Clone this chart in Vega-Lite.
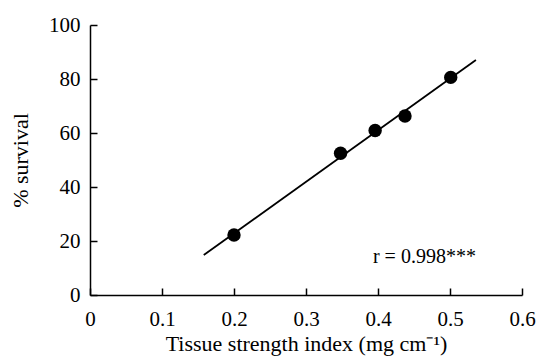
{
  "$schema": "https://vega.github.io/schema/vega-lite/v6.json",
  "width": 432,
  "height": 270,
  "autosize": {"type": "none"},
  "padding": {"left": 90, "top": 25, "right": 15, "bottom": 66},
  "background": "white",
  "config": {
    "view": {"stroke": null},
    "font": "Liberation Serif",
    "axis": {
      "domainColor": "black",
      "domainWidth": 1.5,
      "tickColor": "black",
      "tickWidth": 1.5,
      "grid": false,
      "labelFont": "Liberation Serif",
      "titleFont": "Liberation Serif",
      "labelFontSize": 21,
      "titleFontSize": 22,
      "labelColor": "black",
      "titleColor": "black",
      "titleFontWeight": "normal"
    }
  },
  "layer": [
    {
      "data": {"values": [{"x": 0.158, "y": 14.8}, {"x": 0.536, "y": 87.0}]},
      "mark": {"type": "line", "color": "black", "strokeWidth": 1.8},
      "encoding": {
        "x": {
          "field": "x", "type": "quantitative",
          "scale": {"domain": [0, 0.6], "nice": false},
          "axis": {
            "title": "Tissue strength index (mg cm⁻¹)",
            "values": [0, 0.05, 0.1, 0.15, 0.2, 0.25, 0.3, 0.35, 0.4, 0.45, 0.5, 0.55, 0.6],
            "labelExpr": "round(datum.value*20) % 2 == 0 ? format(datum.value, '.1~f') : ''",
            "tickSize": {"condition": {"test": "round(datum.value*20) % 2 == 0", "value": -7}, "value": -4},
            "labelPadding": 20,
            "labelFlush": false,
            "labelOverlap": false,
            "titlePadding": 4
          }
        },
        "y": {
          "field": "y", "type": "quantitative",
          "scale": {"domain": [0, 100], "nice": false},
          "axis": {
            "title": "% survival",
            "values": [0, 10, 20, 30, 40, 50, 60, 70, 80, 90, 100],
            "labelExpr": "datum.value % 20 == 0 ? datum.label : ''",
            "tickSize": {"condition": {"test": "datum.value % 20 == 0", "value": -7}, "value": -4},
            "labelPadding": 17,
            "labelFlush": false,
            "labelOverlap": false,
            "titlePadding": 16
          }
        }
      }
    },
    {
      "data": {"values": [
        {"x": 0.2, "y": 22.2},
        {"x": 0.348, "y": 52.5},
        {"x": 0.396, "y": 60.9},
        {"x": 0.4375, "y": 66.3},
        {"x": 0.501, "y": 80.6}
      ]},
      "mark": {"type": "point", "filled": true, "color": "black", "size": 180, "opacity": 1},
      "encoding": {
        "x": {"field": "x", "type": "quantitative"},
        "y": {"field": "y", "type": "quantitative"}
      }
    },
    {
      "data": {"values": [{"label": "r = 0.998***"}]},
      "mark": {"type": "text", "align": "left", "baseline": "alphabetic", "fontSize": 20, "font": "Liberation Serif", "color": "black"},
      "encoding": {
        "x": {"datum": 0.393, "type": "quantitative"},
        "y": {"datum": 12, "type": "quantitative"},
        "text": {"field": "label"}
      }
    }
  ]
}
